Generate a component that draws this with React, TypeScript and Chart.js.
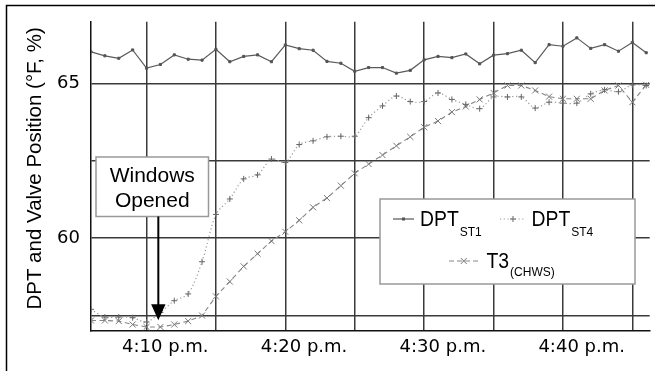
import React, { useEffect, useRef } from 'react';
import { Chart, registerables } from 'chart.js';

Chart.register(...registerables);

// sample index (one sample per minute)
const sampleIndex = [
  0, 1, 2, 3, 4, 5, 6, 7, 8, 9, 10, 11, 12, 13, 14, 15, 16, 17, 18, 19, 20,
  21, 22, 23, 24, 25, 26, 27, 28, 29, 30, 31, 32, 33, 34, 35, 36, 37, 38, 39, 40,
];

const dptST1 = [
  66.03, 65.9, 65.82, 66.09, 65.5, 65.62, 65.93, 65.79, 65.76, 66.11, 65.71,
  65.88, 65.93, 65.71, 66.25, 66.13, 66.08, 65.72, 65.66, 65.4, 65.52, 65.52,
  65.34, 65.43, 65.77, 65.88, 65.84, 65.96, 65.64, 65.92, 65.97, 66.08, 65.68,
  66.26, 66.21, 66.48, 66.14, 66.26, 66.05, 66.33, 66.0,
];

const dptST4 = [
  57.7, 57.45, 57.45, 57.43, 57.29, 57.6, 57.98, 58.2, 59.24, 60.77, 61.27,
  61.92, 62.05, 62.56, 62.45, 63.03, 63.15, 63.28, 63.3, 63.3, 63.9, 64.28,
  64.6, 64.42, 64.42, 64.7, 64.49, 64.33, 64.19, 64.57, 64.57, 64.57, 64.21,
  64.4, 64.37, 64.37, 64.67, 64.8, 64.74, 64.96, 64.94,
];

const t3CHWS = [
  57.34, 57.34, 57.32, 57.21, 57.13, 57.13, 57.21, 57.32, 57.5, 58.12, 58.6,
  59.09, 59.5, 59.91, 60.21, 60.58, 61.0, 61.3, 61.7, 62.1, 62.4, 62.69, 62.99,
  63.28, 63.59, 63.79, 64.08, 64.26, 64.49, 64.7, 64.94, 64.94, 64.78, 64.58,
  64.51, 64.51, 64.51, 64.78, 64.94, 64.4, 64.96,
];

const xGridTicks = [4, 9, 14, 19, 24, 29, 34, 39];
const xLabelTicks = [5.35, 15.35, 25.35, 35.35];
const xTickLabels = ['4:10 p.m.', '4:20 p.m.', '4:30 p.m.', '4:40 p.m.'];
const yGridTicks = [57.5, 60, 62.5, 65];
const yLabelTicks = [60, 65];

const seriesMain = ['DPT', 'DPT', 'T3'];
const seriesSub = ['ST1', 'ST4', '(CHWS)'];
const yTitle = 'DPT and Valve Position (°F, %)';
const noteLines = ['Windows', 'Opened'];
const windowsOpenedAt = 4.85;
const arrowTipValue = 57.35;

const GRID = '#3a3a3a';
const LABEL_FONT = '"Liberation Sans", Arial, Helvetica, sans-serif';

export default function App() {
  const ref = useRef<HTMLCanvasElement>(null);

  useEffect(() => {
    const canvas = ref.current;
    if (!canvas) return;
    const toPts = (arr: number[]) => arr.map((v, i) => ({ x: sampleIndex[i], y: v }));

    const overlay = {
      id: 'overlay',
      afterDraw(chart: any) {
        const c = chart.ctx as CanvasRenderingContext2D;
        const xs = chart.scales.x;
        const ys = chart.scales.y;
        const area = chart.chartArea;
        c.save();

        // outer frame
        c.strokeStyle = '#000';
        c.lineWidth = 1.5;
        c.strokeRect(6.5, 5.5, 760, 420);

        // y title
        c.save();
        c.translate(40.5, 168.4);
        c.rotate(-Math.PI / 2);
        c.fillStyle = '#000';
        c.font = `20.5px ${LABEL_FONT}`;
        c.textAlign = 'center';
        c.textBaseline = 'alphabetic';
        c.fillText(yTitle, 0, 0);
        c.restore();

        // "Windows Opened" note box
        const bx = area.left + 5;
        const by = 157;
        const bw = 112.5;
        const bh = 59.5;
        c.fillStyle = '#fff';
        c.fillRect(bx, by, bw, bh);
        c.strokeStyle = '#999';
        c.lineWidth = 1.5;
        c.strokeRect(bx, by, bw, bh);
        c.fillStyle = '#000';
        c.font = `21px ${LABEL_FONT}`;
        c.textAlign = 'center';
        c.textBaseline = 'alphabetic';
        c.fillText(noteLines[0], bx + bw / 2, by + 24.7);
        c.fillText(noteLines[1], bx + bw / 2, by + 49.5);

        // arrow
        const ax = xs.getPixelForValue(windowsOpenedAt);
        const tipY = ys.getPixelForValue(arrowTipValue);
        c.strokeStyle = '#000';
        c.lineWidth = 2;
        c.beginPath();
        c.moveTo(ax, by + bh);
        c.lineTo(ax, tipY - 15);
        c.stroke();
        c.beginPath();
        c.moveTo(ax - 7.2, tipY - 16);
        c.lineTo(ax + 7.2, tipY - 16);
        c.lineTo(ax, tipY);
        c.closePath();
        c.fill();

        // legend
        const lx = 380, ly = 199, lw = 255, lh = 85;
        c.fillStyle = '#fff';
        c.fillRect(lx, ly, lw, lh);
        c.strokeStyle = '#999';
        c.lineWidth = 1.5;
        c.strokeRect(lx, ly, lw, lh);

        const drawText = (s: string, x: number, y: number, size: number, sx: number) => {
          c.save();
          c.translate(x, y);
          c.scale(sx, 1);
          c.font = `${size}px ${LABEL_FONT}`;
          c.textAlign = 'left';
          c.textBaseline = 'alphabetic';
          c.fillStyle = '#000';
          c.fillText(s, 0, 0);
          const w = c.measureText(s).width * sx;
          c.restore();
          return w;
        };

        const entries = [
          { x0: 393, x1: 414, y: 219, tx: 420, base: 225.5, subBase: 235.5, kind: 0 },
          { x0: 500, x1: 526, y: 219, tx: 531.5, base: 225.5, subBase: 235.5, kind: 1 },
          { x0: 449, x1: 478.5, y: 261, tx: 486.5, base: 268.3, subBase: 276, kind: 2 },
        ];
        entries.forEach((e, k) => {
          c.save();
          c.lineWidth = 1.2;
          if (e.kind === 0) {
            c.strokeStyle = '#555';
            c.setLineDash([]);
          } else if (e.kind === 1) {
            c.strokeStyle = '#999';
            c.setLineDash([1.2, 2.5]);
          } else {
            c.strokeStyle = '#888';
            c.setLineDash([5, 3]);
          }
          c.beginPath();
          c.moveTo(e.x0, e.y);
          c.lineTo(e.x1, e.y);
          c.stroke();
          c.setLineDash([]);
          const mx = (e.x0 + e.x1) / 2;
          c.lineWidth = 1;
          if (e.kind === 0) {
            c.fillStyle = '#555';
            c.fillRect(mx - 1.5, e.y - 1.5, 3, 3);
          } else if (e.kind === 1) {
            c.strokeStyle = '#666';
            c.beginPath();
            c.moveTo(mx - 3, e.y); c.lineTo(mx + 3, e.y);
            c.moveTo(mx, e.y - 3); c.lineTo(mx, e.y + 3);
            c.stroke();
          } else {
            c.strokeStyle = '#777';
            c.beginPath();
            c.moveTo(mx - 3, e.y - 3); c.lineTo(mx + 3, e.y + 3);
            c.moveTo(mx + 3, e.y - 3); c.lineTo(mx - 3, e.y + 3);
            c.stroke();
          }
          c.restore();
          const w = drawText(seriesMain[k], e.tx, e.base, 22, 0.88);
          drawText(seriesSub[k], e.tx + w + 1, e.subBase, 12, 1);
        });

        c.restore();
      },
    };

    const chart = new Chart(canvas, {
      type: 'line',
      data: {
        datasets: [
          {
            label: 'DPT ST1',
            data: toPts(dptST1),
            borderColor: '#5a5a5a',
            borderWidth: 1.2,
            pointStyle: 'rect',
            pointRadius: 1.5,
            pointBackgroundColor: '#555',
            pointBorderColor: '#555',
            pointBorderWidth: 1,
            tension: 0,
          },
          {
            label: 'DPT ST4',
            data: toPts(dptST4),
            borderColor: '#9a9a9a',
            borderWidth: 1.2,
            borderDash: [1.2, 2.5],
            pointStyle: 'cross',
            pointRadius: 3,
            pointBorderColor: '#666',
            pointBorderWidth: 1,
            tension: 0.3,
          },
          {
            label: 'T3 (CHWS)',
            data: toPts(t3CHWS),
            borderColor: '#858585',
            borderWidth: 1.1,
            borderDash: [5, 3.5],
            pointStyle: 'crossRot',
            pointRadius: 4.3,
            pointBorderColor: '#777',
            pointBorderWidth: 1,
            tension: 0,
          },
        ],
      },
      options: {
        animation: false,
        responsive: true,
        maintainAspectRatio: false,
        layout: { padding: { top: 19, left: 0, right: 0, bottom: 0 } },
        plugins: {
          legend: { display: false },
          tooltip: { enabled: false },
          title: { display: false },
        },
        scales: {
          x: {
            type: 'linear',
            min: 0,
            max: 40.25,
            afterBuildTicks: (s: any) => {
              s.ticks = [...xGridTicks, ...xLabelTicks]
                .sort((a, b) => a - b)
                .map((v) => ({ value: v }));
            },
            afterFit: (s: any) => {
              s.height = 40;
            },
            grid: {
              color: (ctx: any) =>
                ctx.tick && xGridTicks.includes(ctx.tick.value) ? GRID : 'rgba(0,0,0,0)',
              lineWidth: 1.5,
              drawTicks: false,
            },
            border: { display: true, color: '#111', width: 1.5 },
            ticks: {
              autoSkip: false,
              maxRotation: 0,
              minRotation: 0,
              padding: 6,
              color: '#000',
              font: { family: 'DejaVu Sans', size: 18 },
              callback: (v: any) => {
                const k = xLabelTicks.indexOf(v);
                return k >= 0 ? xTickLabels[k] : '';
              },
            },
          },
          y: {
            type: 'linear',
            min: 57,
            max: 67,
            afterBuildTicks: (s: any) => {
              s.ticks = yGridTicks.map((v) => ({ value: v }));
            },
            afterFit: (s: any) => {
              s.width = 91;
            },
            grid: {
              color: GRID,
              lineWidth: 1.5,
              drawTicks: false,
            },
            border: { display: true, color: '#111', width: 1.5 },
            ticks: {
              padding: 11,
              color: '#000',
              font: { family: 'DejaVu Sans', size: 18 },
              callback: (v: any) => (yLabelTicks.includes(v) ? String(v) : ''),
            },
          },
        },
      },
      plugins: [overlay],
    });

    return () => chart.destroy();
  }, []);

  return (
    <div style={{ position: 'absolute', left: 0, top: 0, width: 655, height: 371, background: '#fff' }}>
      <canvas ref={ref} />
    </div>
  );
}
